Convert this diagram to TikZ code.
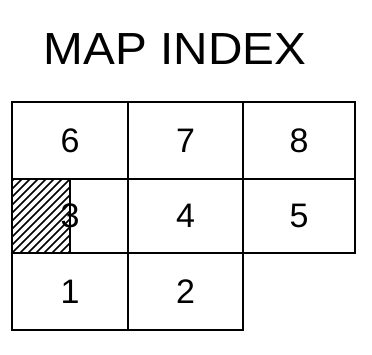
\documentclass[tikz,border=0pt]{standalone}
\usepackage{fontspec}
\setmainfont{Liberation Sans}
\begin{document}
\begin{tikzpicture}[x=1pt,y=-1pt,
  cell/.style={draw=black,line width=2.8pt,inner sep=0pt,font=\fontsize{34}{34}\selectfont},
  hatch/.style={line width=1.7pt}]
\useasboundingbox (0,0) rectangle (372,354);
\node[font=\fontsize{45}{45}\selectfont,xscale=1.06] (title) at (175,49) {MAP INDEX};
% hatching
\begin{scope}
\clip (12,179) rectangle (70,253);
\foreach \i in {-80,-72,...,64} {
  \draw[hatch] (12+\i,253) -- (12+\i+74,179);
}
\end{scope}
\draw[line width=2.2pt] (70,179) -- (70,253);
% cells
\node[cell,minimum width=116pt,minimum height=77pt] (c6) at (70,140.5) {6};
\node[cell,minimum width=115pt,minimum height=77pt] (c7) at (185.5,140.5) {7};
\node[cell,minimum width=112pt,minimum height=77pt] (c8) at (299,140.5) {8};
\node[cell,minimum width=116pt,minimum height=74pt] (c3) at (70,216) {3};
\node[cell,minimum width=115pt,minimum height=74pt] (c4) at (185.5,216) {4};
\node[cell,minimum width=112pt,minimum height=74pt] (c5) at (299,216) {5};
\node[cell,minimum width=116pt,minimum height=77pt] (c1) at (70,291.5) {1};
\node[cell,minimum width=115pt,minimum height=77pt] (c2) at (185.5,291.5) {2};
\end{tikzpicture}
\end{document}
